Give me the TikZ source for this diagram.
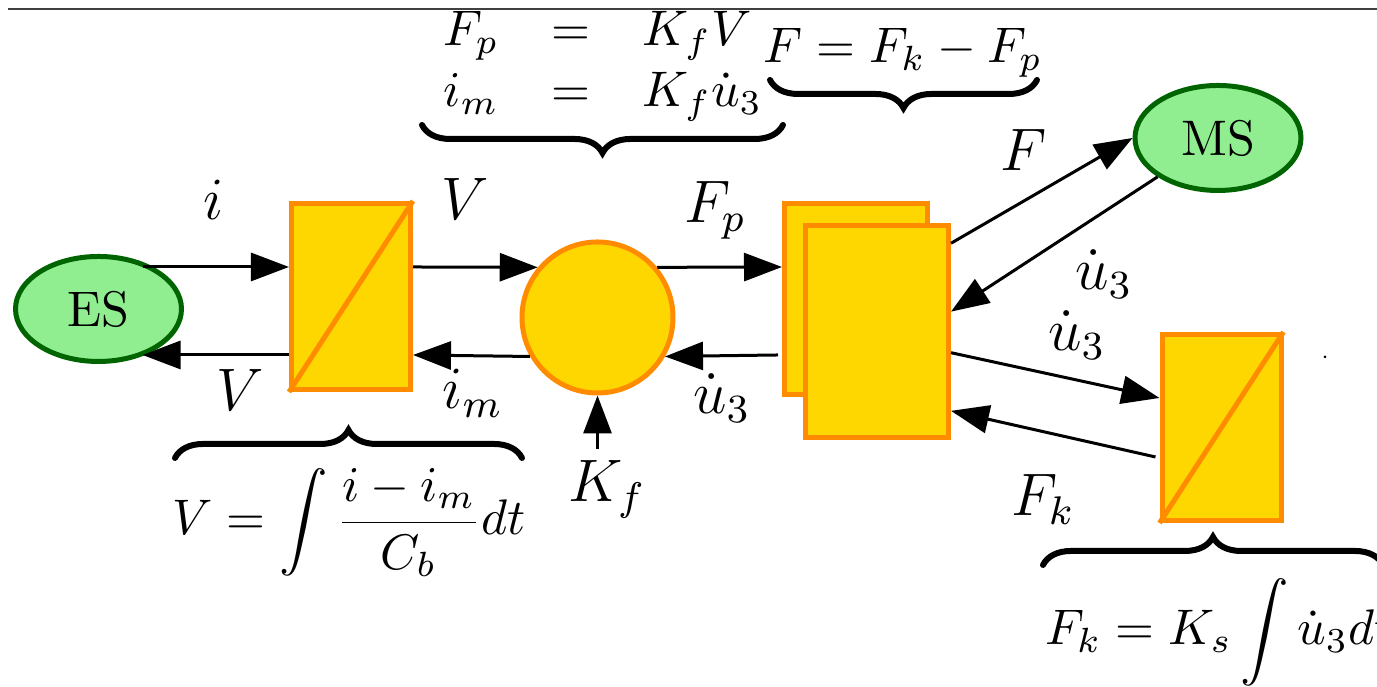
\documentclass[tikz,border=0pt]{standalone}
\usepackage{amsmath,amssymb}
\usepackage{xcolor,tikz}
\usetikzlibrary{arrows.meta,calc,shapes.geometric,decorations.pathreplacing}
\definecolor{gold}{HTML}{FFD700}
\definecolor{darkorange}{HTML}{FF8C00}
\definecolor{lightgreen}{HTML}{90EE90}
\definecolor{darkgreen}{HTML}{006400}

\begin{document}
\begin{tikzpicture}[x=0.2pt,y=-0.2pt,
  arr/.style={-{Triangle[length=7.6pt,width=5.6pt]},line width=0.6pt},
  src/.style={ellipse,draw=darkgreen,line width=1pt,fill=lightgreen,minimum width=33.2pt,minimum height=21pt,inner sep=0pt},
  blk/.style={draw=darkorange,line width=1pt,fill=gold,inner sep=0pt},
  conv/.style={blk,minimum width=23.8pt,minimum height=37.2pt},
  lab/.style={font=\large,inner sep=0pt},
  eqn/.style={inner sep=0pt,font=\fontsize{9.7}{11.6}\selectfont},
  brc/.style={decorate,decoration={brace,amplitude=5.6pt},line width=1.2pt,line cap=round},
  ubrc/.style={brc,decoration={mirror}}]
\useasboundingbox (0,0) rectangle (1377,687);
\draw[black!75,line width=0.4pt] (8,9) -- (1377,9);
\coordinate (top) at (0,267);
\coordinate (bot) at (0,355);
% sources
\node[src] (ES) at (98.5,309) {ES};
\node[src] (MS) at (1218,138) {MS};
% blocks
\node[conv] (box1) at (351,296.5) {};
\draw[darkorange,line width=1pt] (box1.south west) -- (box1.north east);
\node[blk,circle,minimum size=30.2pt] (circ) at (597.5,317.5) {};
\node[blk,minimum width=28.6pt,minimum height=38.2pt] (back) at (856,299) {};
\node[blk,minimum width=28.6pt,minimum height=42.4pt] (front) at (877,331.5) {};
\node[conv] (box2) at (1221.5,427.5) {};
\draw[darkorange,line width=1pt] (box2.south west) -- (box2.north east);
% labels
\node[lab] (li) at (214,200) {$i$};
\node[lab] (lV1) at (465,199) {$V$};
\node[lab] (lFp) at (715,210) {$F_p$};
\node[lab] (lV2) at (240,390) {$V$};
\node[lab] (lim) at (473,393) {$i_m$};
\node[lab] (lu1) at (722,398) {$\dot{u}_3$};
\node[lab,inner sep=2pt] (kf) at (607,489) {$K_f$};
\node[lab] (lF) at (1024,150) {$F$};
\node[lab] (lu2) at (1104,274) {$\dot{u}_3$};
\node[lab] (lu3) at (1077,335) {$\dot{u}_3$};
\node[lab] (lFk) at (1043,500) {$F_k$};
% equations and braces
\node[eqn,anchor=south] (eqfp) at (603,125) {$\begin{array}{@{\hspace{5pt}}r@{\hspace{10.5pt}}c@{\hspace{10.5pt}}l@{\hspace{5pt}}}F_p & = & K_f V\\[0.6pt] i_m & = & K_f\dot{u}_3\end{array}$};
\node[eqn,anchor=base] (eqf) at (903,63) {$F = F_k - F_p$};
\node[eqn,anchor=base] (eqv) at (349,535) {$\displaystyle V = \int\frac{i - i_m}{C_b}dt$};
\node[eqn,anchor=base west] (eqk) at (1044,645) {$\displaystyle F_k = K_s\int\dot{u}_3dt$};
\draw[ubrc] (422,125) -- (783,125);
\draw[ubrc] (770,80) -- (1037,80);
\draw[brc] (175,458) -- (522,458);
\draw[brc] (1043,565) -- (1383,565);
% connectors
\draw[arr] ($(ES.center|-top)+(44,0)$) -- (box1.west|-top);
\draw[arr] (box1.west|-bot) -- ($(ES.center|-bot)+(44,0)$);
\draw[arr] (box1.east|-top) -- (circ.140);
\draw[arr] (circ.-150) -- (box1.east|-bot);
\draw[arr] (circ.40) -- (back.west|-top);
\draw[arr] ($(back.west|-bot)+(-4,0)$) -- (circ.-30);
\draw[arr] (circ.south|-kf.north) -- (circ.south);
\draw[arr] (front.50) -- (MS.west);
\draw[arr] (MS.south west) -- (front.15);
\draw[arr] (front.-16) -- ($(box2.west)+(0,-29.5)$);
\draw[arr] ($(box2.west)+(-4,29.5)$) -- (front.-47);
\fill (1325,357) circle (1.5);
\end{tikzpicture}
\end{document}
